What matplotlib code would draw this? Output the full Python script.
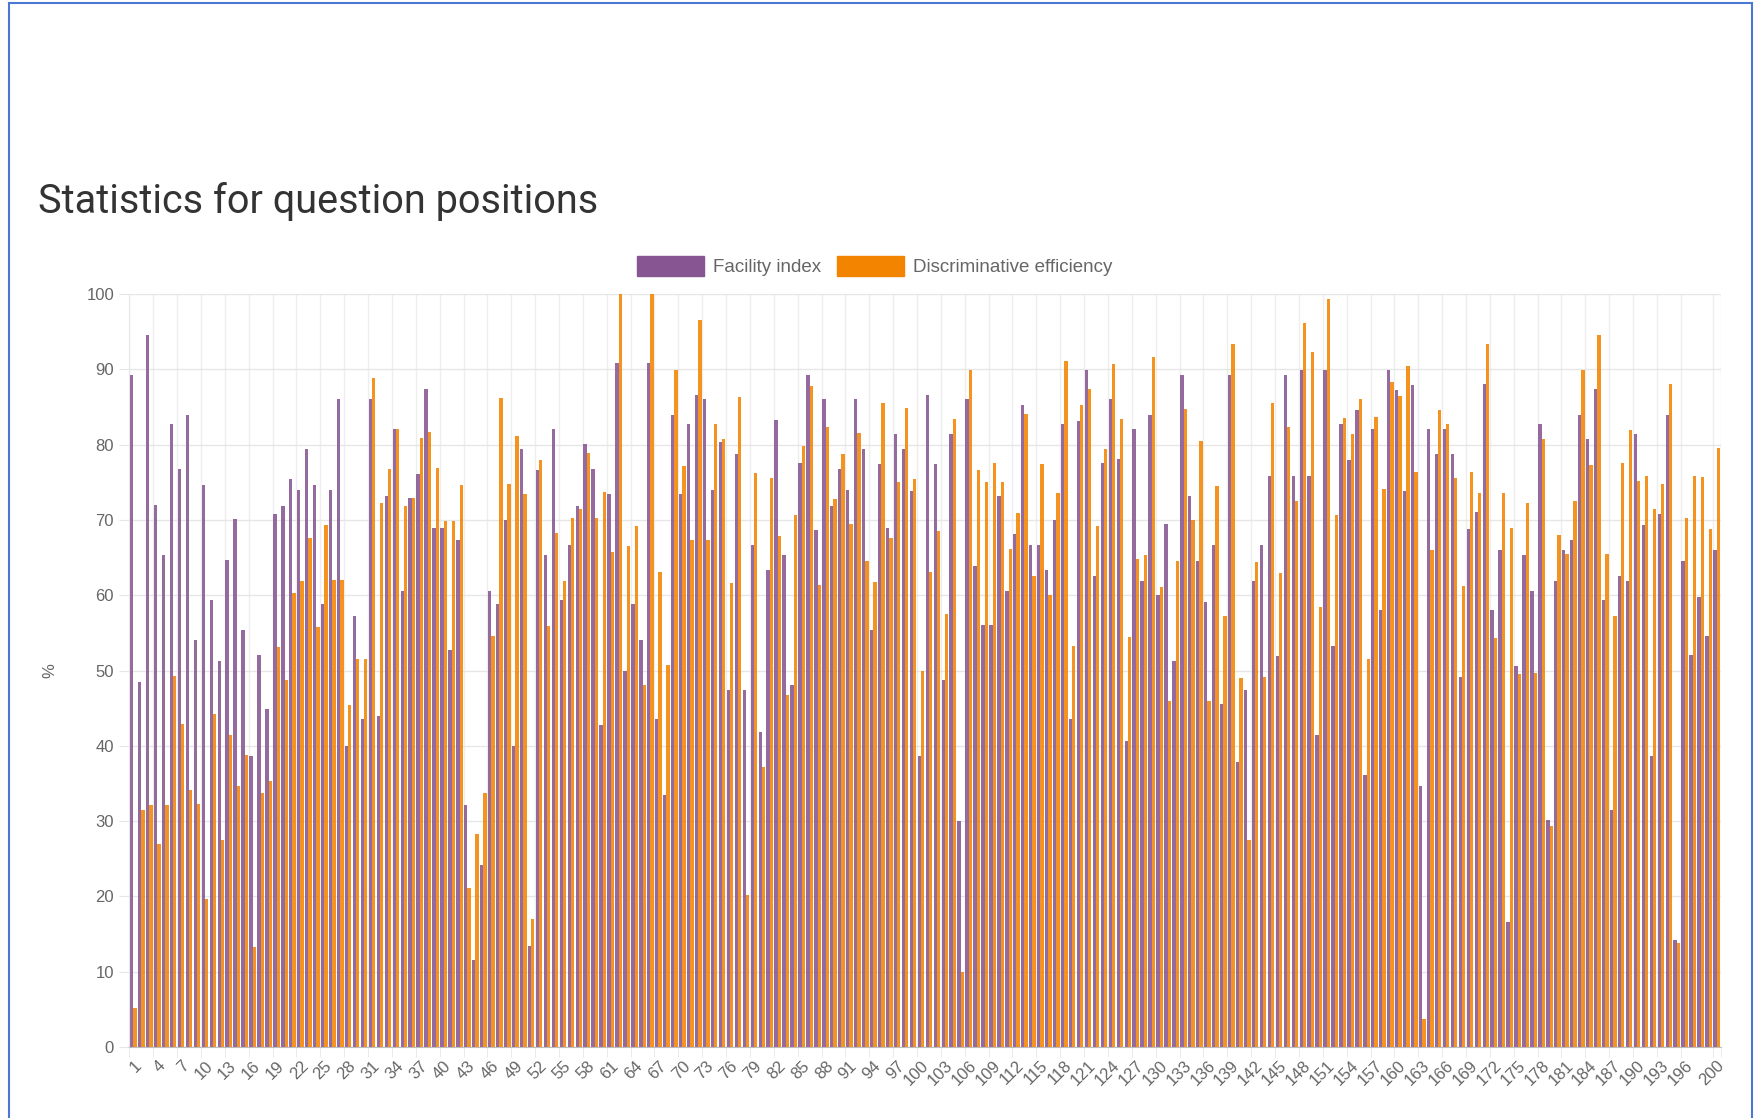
import numpy as np
import matplotlib
matplotlib.use("Agg")
import matplotlib.pyplot as plt
from matplotlib.patches import Rectangle, Patch

# question positions 1..200
questions = np.arange(1, 201)

facility = [
    89.3, 48.5, 94.6, 72.0, 65.4, 82.8, 76.7, 84.0, 54.1, 74.7,
    59.4, 51.3, 64.7, 70.1, 55.4, 38.6, 52.1, 44.9, 70.8, 71.8,
    75.4, 74.0, 79.4, 74.7, 58.8, 74.0, 86.0, 40.0, 57.3, 43.5,
    86.0, 44.0, 73.2, 82.1, 60.5, 72.9, 76.1, 87.4, 68.9, 68.9,
    52.7, 67.4, 32.1, 11.5, 24.2, 60.5, 58.9, 70.0, 40.0, 79.4,
    13.4, 76.6, 65.4, 82.1, 59.4, 66.7, 71.8, 80.1, 76.7, 42.8,
    73.4, 90.8, 50.0, 58.9, 54.0, 90.8, 43.5, 33.5, 84.0, 73.4,
    82.8, 86.6, 86.0, 74.0, 80.3, 47.4, 78.8, 47.4, 66.7, 41.9,
    63.3, 83.3, 65.3, 48.1, 77.5, 89.3, 68.6, 86.0, 71.8, 76.8,
    74.0, 86.0, 79.4, 55.4, 77.4, 68.9, 81.4, 79.4, 73.8, 38.6,
    86.6, 77.4, 48.7, 81.4, 30.0, 86.0, 63.9, 56.0, 56.0, 73.2,
    60.5, 68.1, 85.3, 66.7, 66.7, 63.3, 70.0, 82.8, 43.5, 83.2,
    89.9, 62.6, 77.5, 86.0, 78.1, 40.7, 82.1, 61.9, 84.0, 60.0,
    69.5, 51.3, 89.3, 73.2, 64.6, 59.1, 66.7, 45.5, 89.3, 37.9,
    47.4, 61.9, 66.7, 75.9, 51.9, 89.3, 75.9, 89.9, 75.9, 41.4,
    89.9, 53.2, 82.8, 78.0, 84.6, 36.1, 82.1, 58.0, 89.9, 87.2,
    73.8, 87.9, 34.7, 82.1, 78.8, 82.1, 78.7, 49.2, 68.8, 71.0,
    88.0, 58.0, 66.0, 16.6, 50.6, 65.3, 60.5, 82.8, 30.1, 61.9,
    66.0, 67.4, 83.9, 80.8, 87.4, 59.4, 31.5, 62.6, 61.9, 81.4,
    69.3, 38.7, 70.8, 83.9, 14.2, 64.6, 52.0, 59.8, 54.6, 66.0,
]

discrimination = [
    5.2, 31.5, 32.1, 27.0, 32.1, 49.3, 42.9, 34.1, 32.3, 19.6,
    44.2, 27.5, 41.4, 34.6, 38.8, 13.3, 33.8, 35.3, 53.1, 48.7,
    60.3, 61.9, 67.6, 55.8, 69.3, 62.0, 62.0, 45.4, 51.5, 51.5,
    88.8, 72.2, 76.8, 82.1, 71.8, 72.9, 80.9, 81.7, 76.9, 69.9,
    69.9, 74.7, 21.1, 28.3, 33.8, 54.6, 86.2, 74.8, 81.2, 73.5,
    17.0, 78.0, 55.9, 68.3, 61.9, 70.3, 71.5, 78.9, 70.3, 73.7,
    65.8, 100.0, 66.5, 69.2, 48.1, 100.0, 63.1, 50.7, 89.9, 77.1,
    67.4, 96.5, 67.4, 82.7, 80.7, 61.6, 86.3, 20.2, 76.2, 37.2,
    75.6, 67.8, 46.7, 70.6, 79.8, 87.8, 61.4, 82.3, 72.8, 78.7,
    69.5, 81.6, 64.5, 61.8, 85.5, 67.6, 75.0, 84.9, 75.4, 50.0,
    63.1, 68.5, 57.5, 83.4, 10.0, 89.9, 76.6, 75.1, 77.6, 75.0,
    66.2, 70.9, 84.1, 62.6, 77.4, 60.0, 73.6, 91.1, 53.3, 85.3,
    87.4, 69.2, 79.4, 90.7, 83.4, 54.4, 64.8, 65.3, 91.6, 61.1,
    45.9, 64.6, 84.7, 70.0, 80.5, 46.0, 74.5, 57.2, 93.4, 49.0,
    27.5, 64.4, 49.2, 85.5, 63.0, 82.4, 72.5, 96.2, 92.3, 58.4,
    99.4, 70.7, 83.5, 81.4, 86.0, 51.5, 83.7, 74.1, 88.3, 86.5,
    90.4, 76.4, 3.7, 66.0, 84.6, 82.8, 75.6, 61.2, 76.4, 73.6,
    93.4, 54.3, 73.6, 68.9, 49.5, 72.3, 49.7, 80.8, 29.4, 68.0,
    65.5, 72.5, 89.9, 77.3, 94.5, 65.5, 57.3, 77.5, 81.9, 75.2,
    75.9, 71.5, 74.8, 88.1, 13.8, 70.3, 75.9, 75.7, 68.8, 79.6,
]

tick_positions = list(range(1, 197, 3)) + [200]

purple = '#875692'
orange = '#f38400'
text_grey = '#666666'

fig = plt.figure(figsize=(17.6, 11.18), dpi=100)
fig.patch.set_facecolor('white')

# blue frame around the screenshot
fig.patches.append(Rectangle((9 / 1760, -0.05), 1743 / 1760, 1.05 - 3 / 1118,
                             transform=fig.transFigure, fill=False,
                             edgecolor='#4a78d4', linewidth=1.5))

ax = fig.add_axes([0.0735, 0.0635, 0.9041, 0.6735])
ax.bar(questions - 0.21, facility, width=0.42, color=purple, alpha=0.88,
       linewidth=0)
ax.bar(questions + 0.21, discrimination, width=0.42, color=orange, alpha=0.88,
       linewidth=0)

ax.set_xlim(0.5, 200.5)
ax.set_ylim(0, 100)
ax.set_yticks(range(0, 101, 10))
ax.set_xticks(tick_positions)
ax.set_xticklabels([str(t) for t in tick_positions], rotation=45, ha='right',
                   rotation_mode='anchor', fontsize=12, color=text_grey,
                   family='Liberation Sans')
ax.set_xticks([t - 0.5 for t in tick_positions] + [200.5], minor=True)
ax.tick_params(axis='x', which='major', length=0, pad=8)
ax.tick_params(axis='x', which='minor', length=7, color='#e6e6e6')
ax.tick_params(axis='y', length=7, color='#e6e6e6', labelsize=12,
               labelcolor=text_grey, pad=4)
for lab in ax.get_yticklabels():
    lab.set_family('Liberation Sans')

ax.set_axisbelow(True)
ax.grid(axis='y', which='major', color='#e6e6e6', linewidth=1)
ax.grid(axis='x', which='minor', color='#eeeeee', linewidth=1)
ax.grid(axis='x', which='major', visible=False)
for side in ['top', 'right']:
    ax.spines[side].set_visible(False)
ax.spines['left'].set_color('#e6e6e6')
ax.spines['bottom'].set_color('#bdbdbd')

fig.text(50 / 1760, 1 - 671 / 1118, '%', rotation=90, ha='center', va='center',
         fontsize=12, color=text_grey, family='Liberation Sans')

fig.text(38 / 1760, 1 - 213 / 1118, 'Statistics for question positions',
         fontsize=28.5, color='#333333', family='Roboto', va='baseline')

handles = [Patch(facecolor=purple, edgecolor=purple),
           Patch(facecolor=orange, edgecolor=orange)]
fig.legend(handles, ['Facility index', 'Discriminative efficiency'],
           loc='center', bbox_to_anchor=(0.497, 1 - 266 / 1118), ncol=2,
           frameon=False, handlelength=3.6, handleheight=1.3,
           handletextpad=0.5, columnspacing=0.8,
           prop={'family': 'Liberation Sans', 'size': 13.5},
           labelcolor=text_grey)

fig.savefig('out.png', dpi=100, facecolor='white')
